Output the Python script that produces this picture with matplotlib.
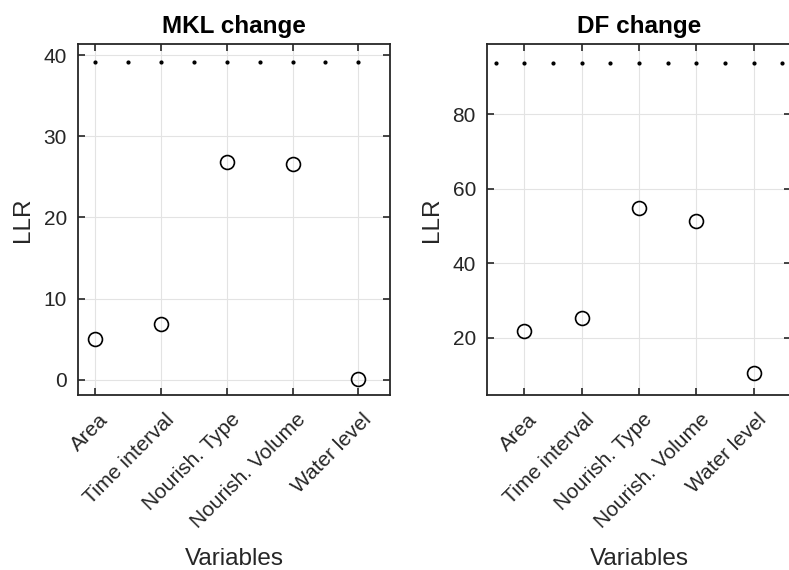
import numpy as np
import matplotlib.pyplot as plt

plt.rcParams['font.family'] = ['Liberation Sans', 'DejaVu Sans']

variables = ['Area', 'Time interval', 'Nourish. Type', 'Nourish. Volume', 'Water level']
mkl_llr = [5.0, 6.9, 26.8, 26.6, 0.1]
df_llr = [21.8, 25.3, 54.8, 51.3, 10.6]
mkl_threshold = 39.2
df_threshold = 93.6

fig = plt.figure(figsize=(7.89, 5.70), dpi=100)
ax1 = fig.add_axes([78/789, 1 - 395/570, 312/789, 351/570])
ax2 = fig.add_axes([487/789, 1 - 395/570, 304/789, 351/570])

panels = [
    (ax1, mkl_llr, mkl_threshold, 'MKL change', (0.74, 5.48), (-1.9, 41.4), [0, 10, 20, 30, 40], (1, 5)),
    (ax2, df_llr, df_threshold, 'DF change', (0.35, 5.65), (4.6, 98.8), [20, 40, 60, 80], (0.5, 5.5)),
]

for ax, vals, thr, title, xl, yl, yt, span in panels:
    x = np.arange(1, len(vals) + 1)
    ax.plot(x, vals, 'o', mfc='none', mec='black', ms=10, mew=1.2, zorder=3)
    dots = np.arange(span[0], span[1] + 0.01, 0.5)
    ax.plot(dots, np.full(len(dots), thr), '.', color='black', ms=4, zorder=3)
    ax.set_xlim(*xl)
    ax.set_ylim(*yl)
    ax.set_xticks(x)
    ax.set_xticklabels([])
    # rotated labels, placed like matlab does (end of text below-right of tick)
    for xi, name in zip(x, variables):
        ax.annotate(name, xy=(xi, 0), xycoords=ax.get_xaxis_transform(),
                    xytext=(7.2, -15.5), textcoords='offset points',
                    rotation=45, ha='right', va='center', rotation_mode='anchor',
                    fontsize=15, color='#262626', annotation_clip=False)
    ax.set_yticks(yt)
    ax.grid(True, color='#e3e3e3', linewidth=0.8)
    ax.set_axisbelow(True)
    ax.tick_params(direction='in', top=True, right=True, length=5, width=1.2,
                   labelsize=15, colors='#262626')
    ax.tick_params(axis='y', pad=8)
    for s in ax.spines.values():
        s.set_linewidth(1.3)
        s.set_color('#262626')
    ax.set_title(title, fontsize=17.5, fontweight='bold', pad=8)
    ax.set_ylabel('LLR', fontsize=17.5, color='#262626', labelpad=7)
    ax.set_xlabel('Variables', fontsize=17.5, color='#262626')
    ax.xaxis.set_label_coords(0.5, -0.436)

fig.savefig('out.png', dpi=100)
